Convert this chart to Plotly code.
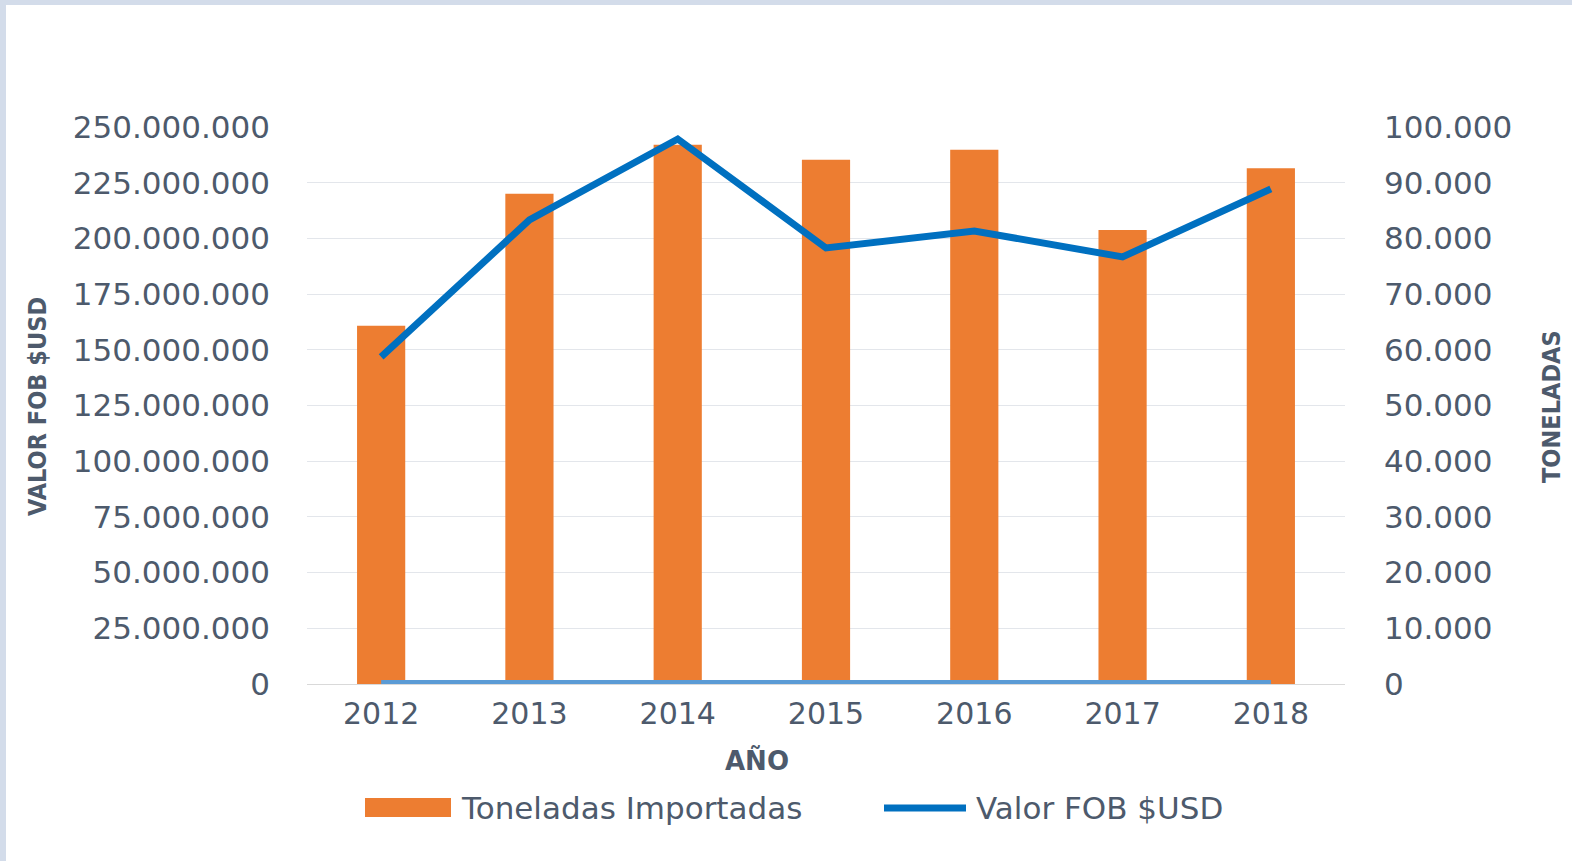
import plotly.graph_objects as go

years = ["2012", "2013", "2014", "2015", "2016", "2017", "2018"]
toneladas = [64300, 88000, 96800, 94100, 95900, 81500, 92600]
valor_fob = [146800000, 208300000, 244600000, 195700000, 203300000, 191700000, 222200000]
zero_series = [0, 0, 0, 0, 0, 0, 0]

left_ticks = [0, 25000000, 50000000, 75000000, 100000000, 125000000, 150000000,
              175000000, 200000000, 225000000, 250000000]
right_ticks = [0, 10000, 20000, 30000, 40000, 50000, 60000, 70000, 80000, 90000, 100000]

W, H = 1572, 861
L, R, T, B = 307, 227, 127, 177
PW, PH = W - L - R, H - T - B

def px(x):
    return (x - L) / PW

def py(y):
    return (H - B - y) / PH

TXT = "#4d5a6c"
FONT = "DejaVu Sans, Verdana, sans-serif"
COND = "DejaVu Sans Condensed, Liberation Sans Narrow, DejaVu Sans, sans-serif"

fig = go.Figure()
fig.add_trace(go.Bar(x=years, y=toneladas, name="Toneladas Importadas",
                     marker=dict(color="#ed7d31", line=dict(width=0)),
                     width=0.325, yaxis="y", showlegend=False))
fig.add_trace(go.Scatter(x=years, y=zero_series, mode="lines", name="",
                         line=dict(color="#5b9bd5", width=8), yaxis="y2",
                         showlegend=False, hoverinfo="skip"))
fig.add_trace(go.Scatter(x=years, y=valor_fob, mode="lines", name="Valor FOB $USD",
                         line=dict(color="#0070c0", width=7), yaxis="y2",
                         showlegend=False))

fig.update_layout(
    width=W, height=H,
    margin=dict(l=L, r=R, t=T, b=B, autoexpand=False),
    paper_bgcolor="white", plot_bgcolor="white",
    separators=",.",
    font=dict(family=FONT, size=31, color=TXT),
    bargap=0.675,
    xaxis=dict(type="category", showline=True, linecolor="#d9d9d9", linewidth=1,
               showgrid=False, ticks="", ticklabelstandoff=3,
               tickfont=dict(size=30, color=TXT, family=FONT)),
    yaxis=dict(side="right", range=[0, 100000], tickvals=right_ticks, tickformat=",d",
               showgrid=True, gridcolor="#e3e6eb", gridwidth=1, zeroline=False,
               showline=False, ticks="", ticklabelstandoff=38,
               tickfont=dict(size=31, color=TXT, family=FONT)),
    yaxis2=dict(side="left", overlaying="y", range=[0, 250000000], tickvals=left_ticks,
                tickformat=",d", showgrid=False, zeroline=False, showline=False,
                ticks="", ticklabelstandoff=36,
                tickfont=dict(size=31, color=TXT, family=FONT)),
    annotations=[
        dict(text="<b>VALOR FOB $USD</b>", xref="paper", yref="paper", x=px(37), y=py(407),
             showarrow=False, textangle=-90, xanchor="center", yanchor="middle",
             font=dict(family=COND, size=25, color=TXT)),
        dict(text="<b>TONELADAS</b>", xref="paper", yref="paper", x=px(1551), y=py(407),
             showarrow=False, textangle=-90, xanchor="center", yanchor="middle",
             font=dict(family=COND, size=25, color=TXT)),
        dict(text="<b>AÑO</b>", xref="paper", yref="paper", x=px(757), y=py(760),
             showarrow=False, xanchor="center", yanchor="middle",
             font=dict(family=FONT, size=26, color=TXT)),
        dict(text="Toneladas Importadas", xref="paper", yref="paper", x=px(459), y=py(808),
             showarrow=False, xanchor="left", yanchor="middle",
             font=dict(family=FONT, size=31, color=TXT)),
        dict(text="Valor FOB $USD", xref="paper", yref="paper", x=px(974), y=py(808),
             showarrow=False, xanchor="left", yanchor="middle",
             font=dict(family=FONT, size=31, color=TXT)),
    ],
    shapes=[
        dict(type="rect", xref="paper", yref="paper", x0=px(0), x1=px(W), y0=py(0), y1=py(5),
             fillcolor="#d3dcea", line=dict(width=0), layer="below"),
        dict(type="rect", xref="paper", yref="paper", x0=px(0), x1=px(6), y0=py(0), y1=py(H),
             fillcolor="#d3dcea", line=dict(width=0), layer="below"),
        dict(type="rect", xref="paper", yref="paper", x0=px(365), x1=px(451), y0=py(817), y1=py(798),
             fillcolor="#ed7d31", line=dict(width=0)),
        dict(type="line", xref="paper", yref="paper", x0=px(884), x1=px(966), y0=py(808), y1=py(808),
             line=dict(color="#0070c0", width=7)),
    ],
)

fig.write_html("out.html", config={"displayModeBar": False},
               post_script="document.body.style.margin='0';document.body.style.overflow='hidden';")
